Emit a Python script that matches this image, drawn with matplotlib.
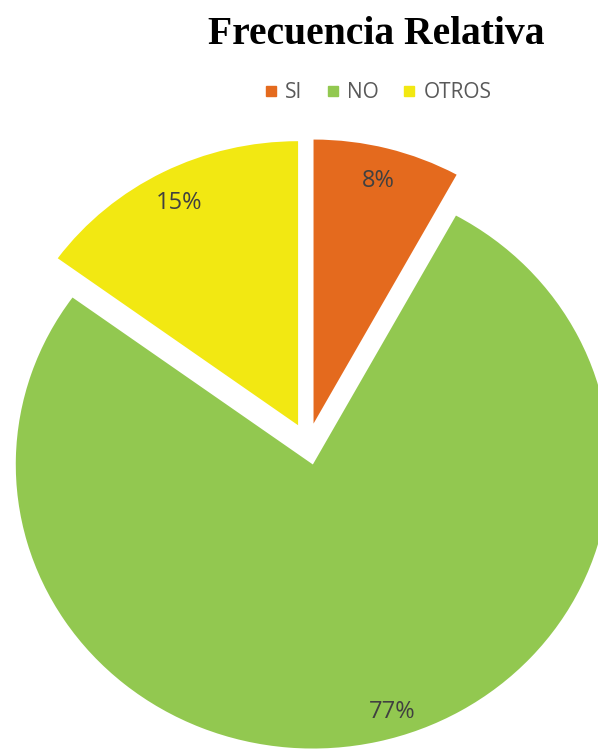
import numpy as np
import matplotlib.pyplot as plt
from matplotlib.lines import Line2D

# datos del gráfico
categorias = ["SI", "NO", "OTROS"]
porcentajes = [8, 77, 15]
colores = ["#E46A1E", "#92C850", "#F2E812"]

fig = plt.figure(figsize=(5.98, 7.55), dpi=100)
fig.patch.set_facecolor("white")

# ejes a toda la figura; la escala x es algo más ancha que la y
ax = fig.add_axes([0, 0, 1, 1])
ax.axis("off")

cuñas, textos, pct = ax.pie(porcentajes,
                            colors=colores,
                            startangle=90,
                            counterclock=False,
                            explode=[0.074] * 3,
                            radius=1,
                            autopct="%1.0f%%",
                            pctdistance=0.88,
                            textprops=dict(fontsize=17, color="#404040",
                                           family="Open Sans"))
ax.set_aspect("auto")
ax.set_xlim(-1.037, 0.976)
ax.set_ylim(-1.095, 1.563)

# la etiqueta del sector grande va un poco girada hacia la derecha
cx, cy = cuñas[1].center
ang = np.deg2rad(-73)
pct[1].set_position((cx + 0.91 * np.cos(ang), cy + 0.91 * np.sin(ang)))

fig.text(0.63, 1 - 34 / 755, "Frecuencia Relativa",
         ha="center", va="center", fontsize=28.5, fontweight="bold",
         family="Liberation Serif", color="black")

manejadores = [Line2D([0], [0], marker="s", linestyle="none",
                      markerfacecolor=c, markeredgecolor=c, markersize=6.5)
               for c in colores]
fig.legend(manejadores, categorias, loc="center", ncol=3,
           bbox_to_anchor=(377 / 598, 1 - 93 / 755), frameon=False,
           handletextpad=0.3, columnspacing=1.05, handlelength=0.8,
           prop=dict(family="Open Sans", size=15), labelcolor="#595959")

fig.savefig("out.png", dpi=100, facecolor="white")
